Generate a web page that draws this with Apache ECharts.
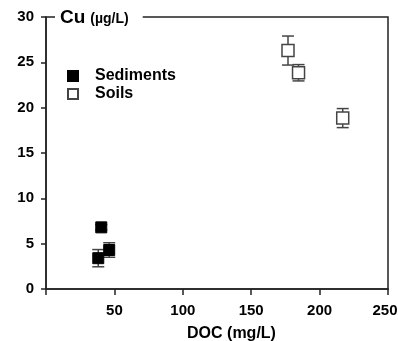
<!DOCTYPE html>
<html>
<head>
<meta charset="utf-8">
<script src="https://cdn.jsdelivr.net/npm/echarts@6/dist/echarts.min.js"></script>
<style>
  html, body { margin: 0; padding: 0; background: #fff; }
  #chart { width: 398px; height: 341px; }
</style>
</head>
<body>
<div id="chart"></div>
<script>
// DOC (mg/L), Cu (ug/L), error (+/-)
const sedimentsDoc = [40.4, 38.2, 46.2];
const sedimentsCu = [6.8, 3.4, 4.3];
const sedimentsErr = [0.3, 0.95, 0.8];

const soilsDoc = [176.9, 184.6, 216.9];
const soilsCu = [26.3, 23.85, 18.85];
const soilsErr = [1.6, 0.9, 1.05];

const xTicks = [0, 50, 100, 150, 200, 250];
const yTicks = [0, 5, 10, 15, 20, 25, 30];

const font = '"Liberation Sans", Arial, sans-serif';
const axisColor = '#222';

const chart = echarts.init(document.getElementById('chart'));

// error bar: vertical line + caps
function errorBar(params, api) {
  const x = api.value(0), y = api.value(1), e = api.value(2);
  const top = api.coord([x, y + e]);
  const bot = api.coord([x, y - e]);
  const w = 6;
  const style = { stroke: '#444', lineWidth: 1.5 };
  return {
    type: 'group',
    children: [
      { type: 'line', shape: { x1: top[0], y1: top[1], x2: bot[0], y2: bot[1] }, style },
      { type: 'line', shape: { x1: top[0] - w, y1: top[1], x2: top[0] + w, y2: top[1] }, style },
      { type: 'line', shape: { x1: bot[0] - w, y1: bot[1], x2: bot[0] + w, y2: bot[1] }, style }
    ]
  };
}

const zip3 = (a, b, c) => a.map((v, i) => [v, b[i], c[i]]);

const lineStyle = { color: axisColor, width: 1.5 };
const xMax = xTicks[xTicks.length - 1];

const option = {
  animation: false,
  backgroundColor: '#fff',
  textStyle: { fontFamily: font },
  title: {
    text: '{a|Cu} {b|(µg/L)}',
    left: 55,
    top: 8,
    padding: [0, 14, 0, 5],
    backgroundColor: '#fff',
    z: 10,
    textStyle: {
      rich: {
        a: { fontSize: 19, fontWeight: 'bold', color: '#000', fontFamily: font },
        b: { fontSize: 14, fontWeight: 'bold', color: '#000', fontFamily: font, padding: [4, 0, 0, 0] }
      }
    }
  },
  legend: {
    data: ['Sediments', 'Soils'],
    orient: 'vertical',
    left: 62,
    top: 63,
    itemWidth: 10,
    itemHeight: 10,
    itemGap: 2,
    textStyle: { fontSize: 16, fontWeight: 'bold', color: '#000', fontFamily: font, padding: [0, 0, 0, 12] }
  },
  grid: {
    left: 46, right: 10, top: 17, bottom: 52,
    outerBoundsMode: 'none', containLabel: false,
    show: true, borderColor: axisColor, borderWidth: 1.5, backgroundColor: 'transparent'
  },
  xAxis: {
    type: 'value',
    min: xTicks[0],
    max: xMax,
    interval: 50,
    name: 'DOC (mg/L)',
    nameLocation: 'middle',
    nameGap: 37,
    nameTextStyle: { fontSize: 16, fontWeight: 'bold', color: '#000', fontFamily: font, padding: [0, 0, 0, 29] },
    splitLine: { show: false },
    axisLine: { show: true, onZero: false, lineStyle },
    axisTick: { show: true, inside: false, length: 6, lineStyle },
    axisLabel: {
      fontSize: 15, fontWeight: 'bold', color: '#000', margin: 14,
      // keep the last label inside the canvas
      formatter: v => (v === 0 ? '' : v === xMax ? '{m|' + v + '}' : String(v)),
      rich: { m: { fontSize: 15, fontWeight: 'bold', color: '#000', fontFamily: font, padding: [0, 6, 0, 0] } }
    }
  },
  yAxis: {
    type: 'value',
    min: yTicks[0],
    max: yTicks[yTicks.length - 1],
    interval: 5,
    splitLine: { show: false },
    axisLine: { show: true, onZero: false, lineStyle },
    axisTick: { show: true, inside: false, length: 5, lineStyle },
    axisLabel: { fontSize: 15, fontWeight: 'bold', color: '#000', margin: 12 }
  },
  series: [
    {
      name: 'sedErr', type: 'custom', renderItem: errorBar, z: 1,
      data: zip3(sedimentsDoc, sedimentsCu, sedimentsErr)
    },
    {
      name: 'soilErr', type: 'custom', renderItem: errorBar, z: 1,
      data: zip3(soilsDoc, soilsCu, soilsErr)
    },
    {
      name: 'Sediments', type: 'scatter', symbol: 'rect', symbolSize: 11, z: 3,
      itemStyle: { color: '#000', borderColor: '#000', borderWidth: 1, opacity: 1 },
      data: sedimentsDoc.map((v, i) => [v, sedimentsCu[i]])
    },
    {
      name: 'Soils', type: 'scatter', symbol: 'rect', symbolSize: 12, z: 3,
      itemStyle: { color: '#fff', borderColor: '#444', borderWidth: 1.5, opacity: 1 },
      data: soilsDoc.map((v, i) => [v, soilsCu[i]])
    }
  ]
};

chart.setOption(option);
</script>
</body>
</html>
